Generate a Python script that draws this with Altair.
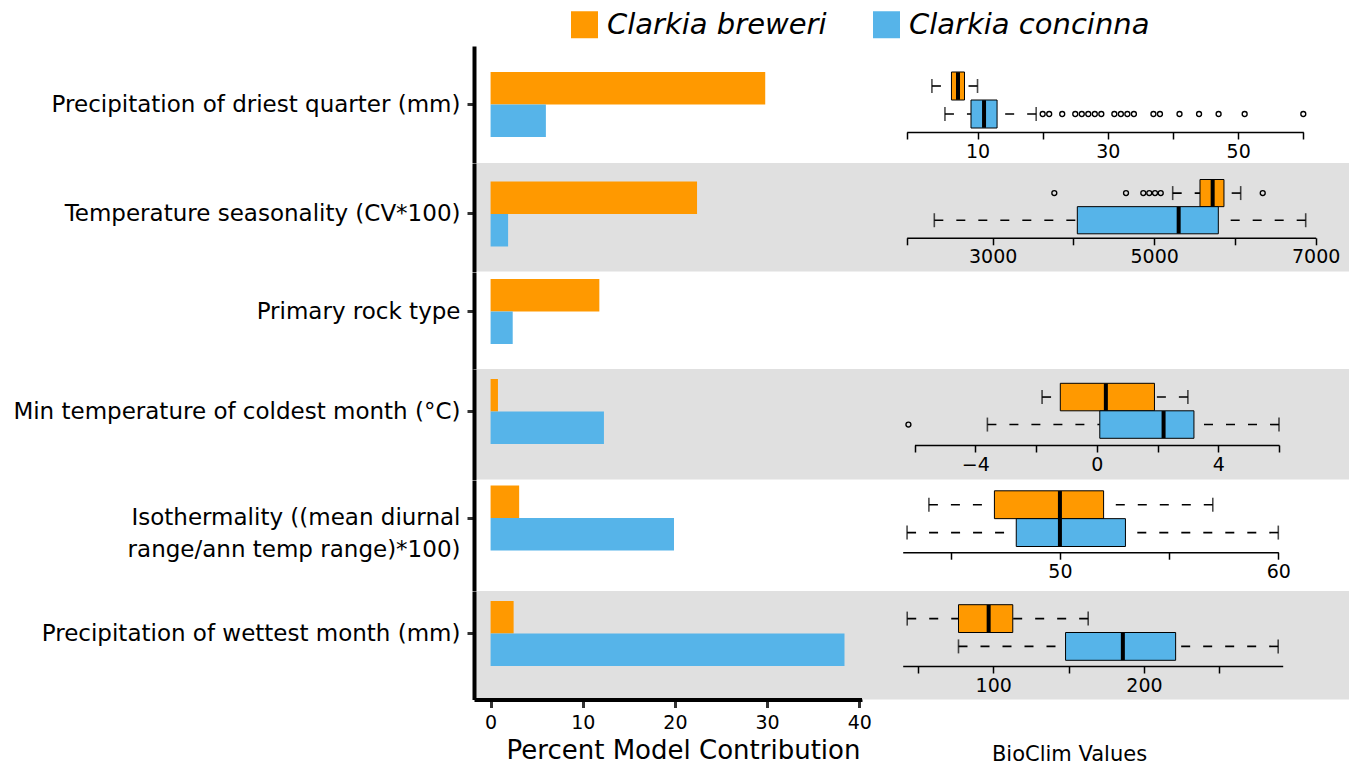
import altair as alt
import pandas as pd

FONT = "DejaVu Sans"

# ---------------- data ----------------
SPECIES = ["Clarkia breweri", "Clarkia concinna"]
COLORS = ["#FF9900", "#56B4E9"]
VARIABLES = [
    "Precipitation of driest quarter (mm)",
    "Temperature seasonality (CV*100)",
    "Primary rock type",
    "Min temperature of coldest month (°C)",
    "Isothermality ((mean diurnal\nrange/ann temp range)*100)",
    "Precipitation of wettest month (mm)",
]
BREWERI_CONTRIB = [29.8, 22.4, 11.8, 0.8, 3.1, 2.5]
CONCINNA_CONTRIB = [6.0, 1.9, 2.4, 12.3, 19.9, 38.4]

# boxplot summaries: [low whisker, Q1, median, Q3, high whisker]
BREWERI_BOX = [[3, 6, 7, 8, 10], [5229, 5567, 5724, 5864, 6071], None,
               [-1.8, -1.2, 0.3, 1.9, 3.0], [44, 47, 50, 52, 57], [43, 77, 97, 113, 163]]
CONCINNA_BOX = [[5, 9, 11, 13, 19], [2277, 4048, 5303, 5794, 6876], None,
                [-3.6, 0.1, 2.2, 3.2, 6.0], [43, 48, 50, 53, 60], [77, 148, 186, 221, 289]]
BREWERI_OUT = [[], [3763, 4651, 4865, 4939, 5010, 5081, 6344], [], [], [], []]
CONCINNA_OUT = [[20, 21, 23, 25, 26, 27, 28, 29, 31, 32, 33, 34, 37, 38, 41, 44, 47, 51, 60],
                [], [], [-6.2], [], []]

# box axes: extent, ticks and labelled ticks
AXIS_DOMAIN = [[-0.87, 60], [1935, 7000], None, [-6, 6], [42.8, 60], [40, 292]]
AXIS_TICKS = [[-0.87, 10, 20, 30, 40, 50, 60], [1935, 3000, 4000, 5000, 6000, 7000], None,
              [-6, -4, -2, 0, 2, 4, 6], [45, 50, 55, 60], [50, 100, 150, 200, 250]]
AXIS_LABELS = [[10, 30, 50], [3000, 5000, 7000], None, [-4, 0, 4], [50, 60], [100, 200]]
BAR_TICKS = [0, 10, 20, 30, 40]

# ---------------- layout / style ----------------
ROW_H = [116.5, 108.5, 97, 110.5, 110.5, 108.5]
GRAY = [False, True, False, True, False, True]
BAR_W = 388
BOX_W = 487
BAR_BAND = 65
BAR_ALIGN = [0.505, 0.425, 0.219, 0.22, 0.121, 0.23]
BOX_Y = [[26, 82], [16.5, 70.8], None, [14.3, 69.3], [10.8, 66.5], [13.7, 69.3]]
BOX_RANGE = [[44.7, 441.3], [44.7, 453.7], None, [52.5, 417], [40.7, 416.3], [40.7, 420.7]]
AXIS_OFFSET = [-30.5, -33.7, None, -34.5, -38.3, -33.5]
EXTENT = 466

LEGEND = alt.Legend(
    orient="none", legendX=96, legendY=-36, direction="horizontal", title=None,
    symbolType="square", symbolSize=729, symbolStrokeWidth=0, symbolOpacity=1,
    labelFont=FONT, labelFontStyle="italic", labelFontSize=29, labelColor="black",
    labelOffset=8, columnPadding=45, padding=0, labelLimit=500,
)
COLOR = alt.Color("species:N", scale=alt.Scale(domain=SPECIES, range=COLORS), legend=LEGEND)


def view_bg(i):
    if GRAY[i]:
        return alt.ViewBackground(fill="#e0e0e0", strokeWidth=0)
    return alt.ViewBackground(strokeWidth=0)


def bar_panel(i):
    df = pd.DataFrame({
        "variable": [VARIABLES[i]] * 2,
        "species": SPECIES,
        "value": [BREWERI_CONTRIB[i], CONCINNA_CONTRIB[i]],
    })
    last = i == len(VARIABLES) - 1
    if last:
        xaxis = alt.Axis(
            values=BAR_TICKS, format="d", title="Percent Model Contribution",
            titleFont=FONT, titleFontSize=26, titleFontWeight="normal", titleColor="black",
            titleX=209, titleY=59, titleBaseline="alphabetic",
            labelFont=FONT, labelFontSize=19, labelColor="black", labelPadding=6,
            labelFlush=False, labelOverlap=False,
            tickSize=8, tickWidth=3, tickColor="#333333",
            domainColor="black", domainWidth=4, grid=False,
        )
    else:
        xaxis = None
    po = (ROW_H[i] / BAR_BAND - 1) / 2
    return alt.Chart(df).mark_bar().encode(
        x=alt.X("value:Q", scale=alt.Scale(domain=[-1.8, 40.3], nice=False, zero=False),
                axis=xaxis, stack=None),
        x2=alt.datum(0),
        y=alt.Y("variable:N",
                scale=alt.Scale(paddingInner=0, paddingOuter=po, align=BAR_ALIGN[i]),
                axis=alt.Axis(
                    title=None, labelExpr="split(datum.label, '\\n')",
                    labelFont=FONT, labelFontSize=23, labelColor="black",
                    labelPadding=7, labelLineHeight=32, labelLimit=600,
                    tickSize=7, tickWidth=3, tickColor="#333333",
                    domainColor="black", domainWidth=4,
                    minExtent=EXTENT, maxExtent=EXTENT, grid=False,
                )),
        yOffset=alt.YOffset("species:N", scale=alt.Scale(domain=SPECIES, paddingInner=0, paddingOuter=0)),
        color=COLOR,
    ).properties(width=BAR_W, height=ROW_H[i], view=view_bg(i))


def box_panel(i):
    recs = []
    for s, st in zip(SPECIES, [BREWERI_BOX[i], CONCINNA_BOX[i]]):
        recs.append({"species": s, "low": st[0], "q1": st[1], "med": st[2], "q3": st[3], "high": st[4]})
    df = pd.DataFrame(recs)
    outs = [{"species": SPECIES[0], "value": v} for v in BREWERI_OUT[i]] + \
           [{"species": SPECIES[1], "value": v} for v in CONCINNA_OUT[i]]

    last = i == len(VARIABLES) - 1
    labs = ",".join(str(v) for v in AXIS_LABELS[i])
    axis_kw = dict(
        values=AXIS_TICKS[i], format="d", orient="bottom", offset=AXIS_OFFSET[i],
        labelExpr=f"indexof([{labs}], datum.value) >= 0 ? datum.label : ''",
        labelFont=FONT, labelFontSize=19, labelColor="black", labelPadding=3,
        labelFlush=False, labelOverlap=False,
        tickSize=7, tickWidth=1.5, tickColor="black",
        domainColor="black", domainWidth=1.5, grid=False,
    )
    if last:
        axis_kw.update(title="BioClim Values", titleFont=FONT, titleFontSize=21,
                       titleFontWeight="normal", titleColor="black",
                       titleX=207, titleY=94, titleBaseline="alphabetic")
    else:
        axis_kw.update(title=None)
    xaxis = alt.Axis(**axis_kw)
    xs = alt.Scale(domain=AXIS_DOMAIN[i], range=BOX_RANGE[i], nice=False, zero=False)
    y = alt.Y("species:N", scale=alt.Scale(domain=SPECIES, range=BOX_Y[i],
                                           paddingInner=0, paddingOuter=0), axis=None)
    step = (BOX_Y[i][1] - BOX_Y[i][0]) / 2

    def X(f):
        return alt.X(f, scale=xs, axis=xaxis)

    base = alt.Chart(df)
    dash = dict(color="black", strokeWidth=1.6, strokeDash=[9, 13])
    layers = [
        base.mark_rule(**dash).encode(x=X("low:Q"), x2="q1:Q", y=y),
        base.mark_rule(**dash).encode(x=X("high:Q"), x2="q3:Q", y=y),
        base.mark_tick(color="black", size=14, thickness=1.6).encode(x=X("low:Q"), y=y),
        base.mark_tick(color="black", size=14, thickness=1.6).encode(x=X("high:Q"), y=y),
        base.mark_bar(stroke="black", strokeWidth=1, opacity=1).encode(x=X("q1:Q"), x2="q3:Q", y=y, color=COLOR),
        base.mark_tick(color="black", size=step - 0.5, thickness=4, opacity=1).encode(x=X("med:Q"), y=y),
    ]
    if outs:
        layers.append(
            alt.Chart(pd.DataFrame(outs)).mark_point(
                shape="circle", filled=False, color="black", size=24, strokeWidth=1.4, opacity=1
            ).encode(x=X("value:Q"), y=y)
        )
    return alt.layer(*layers).properties(width=BOX_W, height=ROW_H[i], view=view_bg(i))


rows = []
for i in range(len(VARIABLES)):
    if BREWERI_BOX[i] is None:
        rows.append(bar_panel(i))
    else:
        rows.append(alt.hconcat(bar_panel(i), box_panel(i), spacing=0, bounds="flush"))

chart = alt.vconcat(*rows, spacing=0, bounds="full").properties(
    padding={"left": 0, "top": 2, "right": 0, "bottom": 0}
).configure_view(strokeWidth=0).configure(font=FONT).configure_axis(grid=False)

chart.save("out.html", embed_options={"renderer": "svg", "actions": False})
